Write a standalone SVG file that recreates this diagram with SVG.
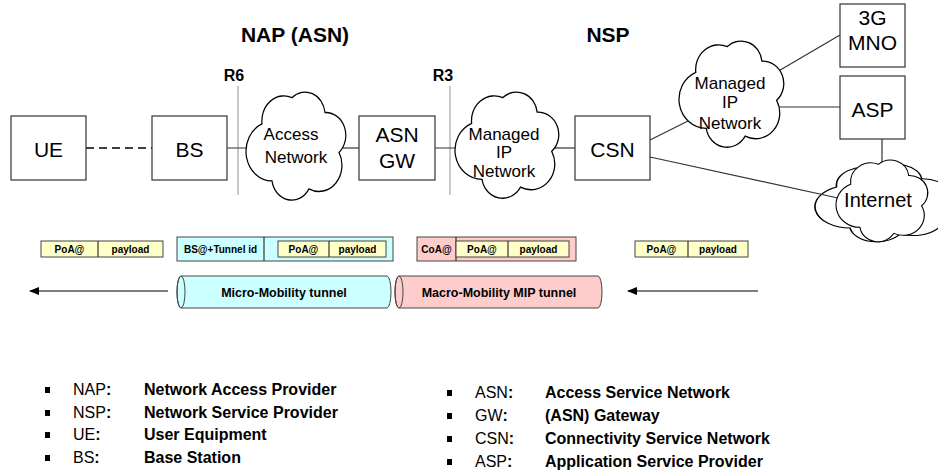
<svg xmlns="http://www.w3.org/2000/svg" width="938" height="471" viewBox="0 0 938 471">
<style>
text{font-family:"Liberation Sans",Arial,sans-serif;fill:#000}
.box{fill:#fff;stroke:#333;stroke-width:1.2}
.cl{fill:#fff;stroke:#000;stroke-width:1.2;vector-effect:non-scaling-stroke}
.ln{stroke:#333;stroke-width:1.2;fill:none}
.ref{stroke:#bbb;stroke-width:1.6}
.lbl{font-size:21px;text-anchor:middle}
.cl-t{font-size:17px;text-anchor:middle}
.hd{font-size:21px;font-weight:bold;text-anchor:middle}
.rr{font-size:16px;font-weight:bold;text-anchor:middle}
.pk{font-size:10px;font-weight:bold;text-anchor:middle}
.tn{font-size:12.5px;font-weight:bold;text-anchor:middle}
.y{fill:#ffffc8;stroke:#444;stroke-width:1}
.c{fill:#ccffff;stroke:#444;stroke-width:1}
.p{fill:#ffcccc;stroke:#444;stroke-width:1}
.lg{font-size:16px}
.b{font-weight:bold}
</style>
<defs>
<path id="cloud" d="M16,28 A22,22 0 0 1 46,5 A20,20 0 0 1 79,18 A20,20 0 0 1 93,53 A23,23 0 0 1 63,85 A20,20 0 0 1 26,78 A26,26 0 0 1 16,28 Z"/>
<marker id="ah" markerWidth="10" markerHeight="8" refX="9" refY="4" orient="auto" markerUnits="userSpaceOnUse">
<path d="M0,0 L10,4 L0,8 Z" fill="#000"/>
</marker>
</defs>

<text class="hd" x="295" y="42">NAP (ASN)</text>
<text class="hd" x="608" y="42">NSP</text>
<text class="rr" x="234" y="81">R6</text>
<text class="rr" x="443" y="81">R3</text>

<g id="connectors">
<line class="ref" x1="238" y1="86" x2="238" y2="195"/>
<line class="ref" x1="450" y1="86" x2="450" y2="195"/>
<line x1="86" y1="148" x2="152" y2="148" stroke="#000" stroke-width="1.5" stroke-dasharray="8,5"/>
<line class="ln" x1="227" y1="148" x2="260" y2="148"/>
<line class="ln" x1="335" y1="148" x2="359" y2="148"/>
<line class="ln" x1="435" y1="148" x2="470" y2="148"/>
<line class="ln" x1="550" y1="148" x2="575" y2="148"/>
<line class="ln" x1="650" y1="140" x2="690" y2="120"/>
<line class="ln" x1="770" y1="76" x2="840" y2="35"/>
<line class="ln" x1="775" y1="107" x2="840" y2="107"/>
<line class="ln" x1="882" y1="139" x2="882" y2="170"/>
</g>

<g id="UE"><rect class="box" x="11" y="116" width="75" height="64"/><text class="lbl" x="48.5" y="157">UE</text></g>
<g id="BS"><rect class="box" x="152" y="116" width="75" height="64"/><text class="lbl" x="189.5" y="157">BS</text></g>
<g id="AccessNetwork"><use href="#cloud" class="cl" transform="translate(246,92) scale(1.0,1.14)"/><text class="cl-t" x="291" y="140">Access</text><text class="cl-t" x="296" y="163">Network</text></g>
<g id="ASNGW"><rect class="box" x="359" y="116" width="76" height="64"/><text class="lbl" x="397" y="142">ASN</text><text class="lbl" x="397" y="168">GW</text></g>
<g id="ManagedIP1"><use href="#cloud" class="cl" transform="translate(455,92) scale(1.04,1.12)"/><text class="cl-t" x="504" y="140">Managed</text><text class="cl-t" x="504" y="158">IP</text><text class="cl-t" x="504" y="177">Network</text></g>
<g id="CSN"><rect class="box" x="575" y="116" width="75" height="64"/><text class="lbl" x="612.5" y="157">CSN</text></g>
<g id="ManagedIP2"><use href="#cloud" class="cl" transform="translate(679,41) scale(1.05,1.12)"/><text class="cl-t" x="730" y="89">Managed</text><text class="cl-t" x="730" y="108">IP</text><text class="cl-t" x="730" y="129">Network</text></g>
<g id="MNO3G"><rect class="box" x="840" y="4" width="65" height="63"/><text class="lbl" x="872.5" y="25">3G</text><text class="lbl" x="872.5" y="50">MNO</text></g>
<g id="ASP"><rect class="box" x="840" y="76" width="65" height="63"/><text class="lbl" x="872.5" y="117">ASP</text></g>
<g id="Internet"><use href="#cloud" class="cl" transform="translate(815,164) scale(1.35,0.82)"/><line class="ln" x1="650" y1="157" x2="838" y2="198"/><use href="#cloud" class="cl" transform="translate(836,160) scale(0.92,0.863)"/><text class="cl-t" x="878" y="207" style="font-size:20px">Internet</text></g>

<g id="packet1"><rect class="y" x="41" y="241" width="122" height="16"/><line class="ln" x1="98" y1="241" x2="98" y2="257"/><text class="pk" x="69.5" y="252.5">PoA@</text><text class="pk" x="130.5" y="252.5">payload</text></g>
<g id="packet2"><rect class="c" x="177" y="237" width="216" height="24"/><line class="ln" x1="264" y1="237" x2="264" y2="261"/><text class="pk" x="220.5" y="252.5">BS@+Tunnel id</text><rect class="y" x="278" y="241" width="108" height="16"/><line class="ln" x1="329" y1="241" x2="329" y2="257"/><text class="pk" x="303.5" y="252.5">PoA@</text><text class="pk" x="357.5" y="252.5">payload</text></g>
<g id="packet3"><rect class="p" x="417" y="237" width="159" height="24"/><line class="ln" x1="456" y1="237" x2="456" y2="261"/><text class="pk" x="436.5" y="252.5">CoA@</text><rect class="y" x="456" y="241" width="113" height="16"/><line class="ln" x1="508" y1="241" x2="508" y2="257"/><text class="pk" x="482" y="252.5">PoA@</text><text class="pk" x="538.5" y="252.5">payload</text></g>
<g id="packet4"><rect class="y" x="635" y="241" width="113" height="16"/><line class="ln" x1="688" y1="241" x2="688" y2="257"/><text class="pk" x="661.5" y="252.5">PoA@</text><text class="pk" x="718" y="252.5">payload</text></g>

<g id="microTunnel"><path class="c" d="M181,276 L387,276 A4,16 0 0 1 387,308 L181,308 A4,16 0 0 1 181,276 Z"/><ellipse cx="181" cy="292" rx="4" ry="16" fill="none" stroke="#444" stroke-width="1"/><text class="tn" x="284" y="296.5">Micro-Mobility tunnel</text></g>
<g id="macroTunnel"><path class="p" d="M399,276 L598,276 A4,16 0 0 1 598,308 L399,308 A4,16 0 0 1 399,276 Z"/><ellipse cx="399" cy="292" rx="4" ry="16" fill="none" stroke="#444" stroke-width="1"/><text class="tn" x="499" y="296.5">Macro-Mobility MIP tunnel</text></g>

<g id="arrows">
<line x1="168" y1="291" x2="30" y2="291" stroke="#000" stroke-width="1.2" marker-end="url(#ah)"/>
<line x1="758" y1="291" x2="628" y2="291" stroke="#000" stroke-width="1.2" marker-end="url(#ah)"/>
</g>

<g id="legend">
<rect x="45" y="387" width="5" height="6"/><rect x="45" y="410" width="5" height="6"/><rect x="45" y="432" width="5" height="6"/><rect x="45" y="455" width="5" height="6"/>
<text class="lg" x="73" y="395">NAP<tspan class="b">:</tspan></text><text class="lg b" x="144" y="395">Network Access Provider</text>
<text class="lg" x="73" y="418">NSP<tspan class="b">:</tspan></text><text class="lg b" x="144" y="418">Network Service Provider</text>
<text class="lg" x="73" y="440">UE<tspan class="b">:</tspan></text><text class="lg b" x="144" y="440">User Equipment</text>
<text class="lg" x="73" y="463">BS<tspan class="b">:</tspan></text><text class="lg b" x="144" y="463">Base Station</text>
<rect x="447" y="390" width="5" height="6"/><rect x="447" y="413" width="5" height="6"/><rect x="447" y="436" width="5" height="6"/><rect x="447" y="459" width="5" height="6"/>
<text class="lg" x="475" y="398">ASN<tspan class="b">:</tspan></text><text class="lg b" x="545" y="398">Access Service Network</text>
<text class="lg" x="475" y="421">GW<tspan class="b">:</tspan></text><text class="lg b" x="545" y="421">(ASN) Gateway</text>
<text class="lg" x="475" y="444">CSN<tspan class="b">:</tspan></text><text class="lg b" x="545" y="444">Connectivity Service Network</text>
<text class="lg" x="475" y="467">ASP<tspan class="b">:</tspan></text><text class="lg b" x="545" y="467">Application Service Provider</text>
</g>
</svg>
